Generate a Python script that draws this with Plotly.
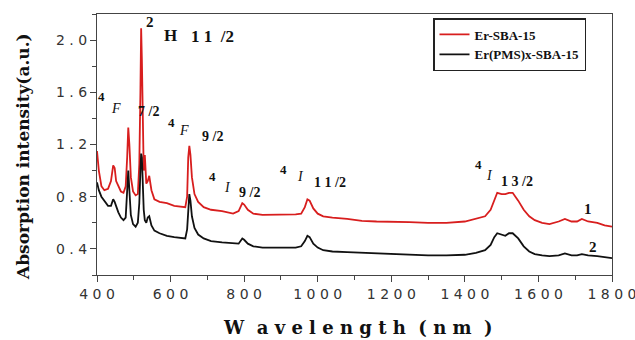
import plotly.graph_objects as go

# ---------------- data ----------------
wavelength = [400, 405, 412, 420, 430, 438, 444, 448, 452, 458, 465, 472, 478, 482, 485, 488, 492, 498,
              505, 511, 515, 518, 520, 522, 524, 527, 530, 534, 538, 542, 548, 556, 570, 590, 610, 630,
              640, 645, 648, 651, 654, 658, 665, 675, 690, 710, 740, 770, 785, 795, 800, 810, 825, 850,
              880, 910, 940, 955, 965, 972, 978, 988, 1000, 1015, 1040, 1080, 1120, 1160, 1200, 1250,
              1300, 1350, 1400, 1430, 1455, 1470, 1480, 1488, 1500, 1510, 1520, 1530, 1545, 1560, 1575,
              1590, 1610, 1630, 1655, 1672, 1690, 1705, 1718, 1735, 1760, 1780, 1800]

er_sba15 = [1.15, 1.00, 0.88, 0.85, 0.86, 0.92, 1.04, 1.02, 0.92, 0.88, 0.84, 0.83, 0.88, 1.10, 1.33, 1.20,
            0.95, 0.84, 0.81, 0.82, 1.05, 1.60, 2.09, 1.85, 1.30, 1.00, 1.12, 0.90, 0.92, 0.96, 0.85, 0.78,
            0.76, 0.75, 0.73, 0.72, 0.72, 0.80, 1.10, 1.19, 1.12, 0.95, 0.82, 0.76, 0.72, 0.70, 0.69, 0.67,
            0.69, 0.75, 0.74, 0.70, 0.67, 0.66, 0.66, 0.66, 0.665, 0.67, 0.72, 0.78, 0.77, 0.71, 0.67, 0.65,
            0.64, 0.63, 0.615, 0.61, 0.61, 0.605, 0.60, 0.60, 0.61, 0.63, 0.65, 0.70, 0.78, 0.83, 0.82,
            0.82, 0.83, 0.83, 0.77, 0.70, 0.65, 0.62, 0.60, 0.59, 0.61, 0.63, 0.61, 0.61, 0.63, 0.61,
            0.60, 0.58, 0.57]

er_pms_sba15 = [0.91, 0.85, 0.80, 0.77, 0.73, 0.73, 0.78, 0.76, 0.72, 0.68, 0.64, 0.62, 0.64, 0.80, 1.00,
                0.85, 0.66, 0.59, 0.57, 0.60, 0.75, 1.00, 1.13, 1.10, 0.90, 0.70, 0.62, 0.60, 0.64, 0.65,
                0.58, 0.54, 0.52, 0.50, 0.49, 0.48, 0.48, 0.55, 0.75, 0.82, 0.77, 0.65, 0.56, 0.51, 0.48,
                0.46, 0.45, 0.44, 0.44, 0.48, 0.47, 0.44, 0.42, 0.41, 0.41, 0.41, 0.41, 0.42, 0.46, 0.50,
                0.49, 0.44, 0.41, 0.39, 0.38, 0.375, 0.37, 0.365, 0.36, 0.355, 0.35, 0.35, 0.355, 0.37,
                0.39, 0.43, 0.49, 0.52, 0.51, 0.50, 0.52, 0.52, 0.48, 0.42, 0.38, 0.36, 0.35, 0.345, 0.35,
                0.365, 0.35, 0.35, 0.36, 0.35, 0.345, 0.335, 0.33]

series_names = ["Er-SBA-15", "Er(PMS)x-SBA-15"]

x_tickvals = [400, 600, 800, 1000, 1200, 1400, 1600, 1800]
x_ticktext = ["4 0 0", "6 0 0", "8 0 0", "1 0 0 0", "1 2 0 0", "1 4 0 0", "1 6 0 0", "1 8 0 0"]
y_tickvals = [0.4, 0.8, 1.2, 1.6, 2.0]
y_ticktext = ["0 . 4", "0 . 8", "1 . 2", "1 . 6", "2 . 0"]

x_title = "W  a v e l e n g t h  ( n m  )"
y_title = "Absorption intensity(a.u.)"

# ---------------- layout geometry ----------------
W, H = 635, 340
L, R, T, B = 97, 23, 14, 65
PW, PH = W - L - R, H - T - B

def paper(px, py):
    return (px - L) / PW, (H - B - py) / PH

fig = go.Figure()
fig.add_trace(go.Scatter(x=wavelength, y=er_sba15, mode="lines", name=series_names[0],
                         line=dict(color="#d81e1e", width=1.8)))
fig.add_trace(go.Scatter(x=wavelength, y=er_pms_sba15, mode="lines", name=series_names[1],
                         line=dict(color="#111111", width=1.8)))

serif = "Liberation Serif"
# transition labels: (text, px, py, size, italic)
labels = [
    ("2", 150, 22, 15, False), ("H", 170, 35, 17, False), ("1 1  /2", 212, 36, 17, False),
    ("4", 101, 96, 13, False), ("F", 116, 108, 14, True), ("7 /2", 148, 111, 14, False),
    ("4", 171, 122, 13, False), ("F", 184, 130, 14, True), ("9 /2", 212, 136, 14, False),
    ("4", 212, 177, 13, False), ("I", 227, 187, 14, True), ("9 /2", 249, 192, 14, False),
    ("4", 283, 170, 13, False), ("I", 300, 177, 14, True), ("1 1 /2", 330, 182, 14, False),
    ("4", 478, 164, 13, False), ("I", 489, 175, 14, True), ("1 3 /2", 517, 181, 14, False),
    ("1", 588, 209, 15, False), ("2", 593, 247, 15, False),
]
for txt, px, py, sz, it in labels:
    xp, yp = paper(px, py)
    fig.add_annotation(x=xp, y=yp, xref="paper", yref="paper", text=txt if it else f"<b>{txt}</b>",
                       showarrow=False, xanchor="center", yanchor="middle",
                       font=dict(family=serif, size=sz, color="#111",
                                 style="italic" if it else "normal"))

# axis titles
xp, yp = paper(358, 327)
fig.add_annotation(x=xp, y=yp, xref="paper", yref="paper", text=f"<b>{x_title}</b>", showarrow=False,
                   xanchor="center", yanchor="middle",
                   font=dict(family="DejaVu Serif", size=18, color="#111"))
xp, yp = paper(23, 157)
fig.add_annotation(x=xp, y=yp, xref="paper", yref="paper", text=f"<b>{y_title}</b>", showarrow=False,
                   xanchor="center", yanchor="middle", textangle=-90,
                   font=dict(family="DejaVu Serif", size=17, color="#111"))

axis_common = dict(showline=True, linecolor="#444", linewidth=1.2, mirror=True, showgrid=False,
                   zeroline=False, ticks="outside", ticklen=6, tickcolor="#444", tickwidth=1.2,
                   ticklabeloverflow="allow",
                   tickfont=dict(family="DejaVu Sans", size=14, color="#333"))
fig.update_xaxes(range=[400, 1800], tickmode="array", tickvals=x_tickvals, ticktext=x_ticktext,
                 minor=dict(ticks="outside", dtick=100, tick0=400, ticklen=4, tickcolor="#444"),
                 **axis_common)
fig.update_yaxes(range=[0.2, 2.2], tickmode="array", tickvals=y_tickvals, ticktext=y_ticktext,
                 minor=dict(ticks="outside", dtick=0.2, tick0=0.2, ticklen=4, tickcolor="#444"),
                 **axis_common)

lx, ly = paper(433, 18)
fig.update_layout(
    width=W, height=H, margin=dict(l=L, r=R, t=T, b=B, autoexpand=False),
    paper_bgcolor="white", plot_bgcolor="white",
    showlegend=True,
    legend=dict(x=lx, y=ly, xanchor="left", yanchor="top", bgcolor="white",
                bordercolor="#222", borderwidth=1.5,
                font=dict(family=serif, size=13, color="#111", weight="bold"),
                tracegroupgap=0),
)

fig.write_html("out.html")
